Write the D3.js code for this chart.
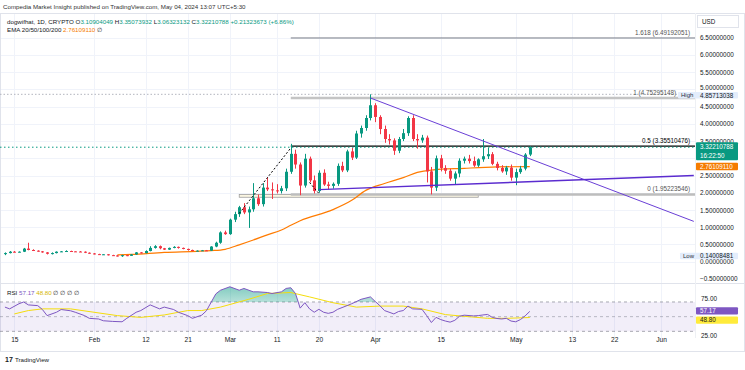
<!DOCTYPE html>
<html>
<head>
<meta charset="utf-8">
<script src="https://cdn.jsdelivr.net/npm/d3@7"></script>
<style>
body { margin: 0; background: #fff; }
svg text { font-family: "Liberation Sans", Arial, sans-serif; }
</style>
</head>
<body>
<svg id="chart" width="745" height="370"></svg>
<script>
// daily candles, first one on Jan 13 2024
var firstDay = '2024-01-13';
var open = [0.22,0.25,0.29,0.28,0.29,0.38,0.34,0.32,0.30,0.27,
    0.23,0.25,0.29,0.30,0.31,0.30,0.295,0.29,0.26,0.24,
    0.22,0.205,0.215,0.19,0.18,0.16,0.19,0.17,0.21,0.27,
    0.25,0.31,0.40,0.45,0.39,0.35,0.40,0.43,0.40,0.37,
    0.34,0.31,0.32,0.33,0.32,0.44,0.55,0.85,0.80,1.22,
    1.38,1.58,1.43,1.52,1.84,1.67,2.15,2.10,2.07,2.05,
    2.13,2.61,3.13,2.82,2.21,2.99,2.36,2.05,2.58,2.24,
    2.20,2.26,2.78,2.65,3.20,3.02,3.72,3.88,4.17,4.54,
    4.20,3.85,3.56,3.52,3.22,3.56,3.73,4.17,3.56,3.52,
    3.60,2.62,2.15,3.00,2.72,2.64,2.41,2.56,2.93,2.99,
    2.92,2.79,2.97,3.06,3.12,2.84,2.72,2.62,2.73,2.44,
    2.60,2.70,3.10904049];
var high = [0.27,0.31,0.31,0.30,0.40,0.55,0.36,0.33,0.31,0.28,
    0.27,0.30,0.31,0.33,0.32,0.31,0.31,0.30,0.27,0.25,
    0.23,0.22,0.22,0.20,0.19,0.20,0.20,0.22,0.28,0.28,
    0.33,0.45,0.48,0.47,0.40,0.41,0.45,0.44,0.41,0.38,
    0.35,0.33,0.34,0.34,0.45,0.58,0.88,0.90,1.25,1.45,
    1.62,1.70,1.60,2.28,1.95,2.28,2.45,2.30,2.25,2.20,
    2.70,3.42,3.25,2.88,3.13,3.05,2.50,2.65,2.68,2.32,
    2.30,2.85,2.90,3.25,3.30,3.80,3.95,4.25,4.85713038,4.60,
    4.25,3.95,3.70,3.58,3.62,3.85,4.22,4.25,3.70,3.68,
    3.66,2.75,3.08,3.10,2.80,2.70,2.62,3.00,3.05,3.10,
    3.05,3.00,3.56,3.30,3.18,2.90,2.80,2.78,2.82,2.70,
    2.78,3.15,3.35073932];
var low = [0.19,0.24,0.27,0.27,0.28,0.33,0.31,0.29,0.26,0.21,
    0.21,0.24,0.28,0.29,0.29,0.29,0.28,0.25,0.23,0.21,
    0.20,0.20,0.18,0.17,0.15,0.14008481,0.16,0.17,0.20,0.24,
    0.24,0.30,0.38,0.36,0.34,0.34,0.39,0.38,0.36,0.32,
    0.30,0.30,0.31,0.31,0.31,0.42,0.52,0.78,0.78,1.15,
    1.30,1.38,0.98,1.45,1.62,1.60,2.05,1.82,1.98,1.98,
    2.05,2.55,2.70,1.93,2.15,2.30,1.98,2.00,2.20,2.10,
    2.12,2.20,2.60,2.60,2.95,2.98,3.60,3.80,4.10,4.05,
    3.70,3.45,3.40,3.10,3.15,3.50,3.65,3.50,3.28,3.45,
    2.30,1.952,2.05,2.62,2.55,2.35,2.25,2.45,2.85,2.85,
    2.75,2.75,2.90,2.98,2.80,2.65,2.58,2.52,2.35,2.22,
    2.55,2.65,3.06323132];
var close = [0.25,0.29,0.28,0.29,0.38,0.34,0.32,0.30,0.27,0.23,
    0.25,0.29,0.30,0.31,0.30,0.295,0.29,0.26,0.24,0.22,
    0.21,0.215,0.19,0.18,0.16,0.19,0.17,0.21,0.27,0.25,
    0.31,0.40,0.45,0.39,0.35,0.40,0.43,0.40,0.37,0.34,
    0.31,0.32,0.33,0.32,0.44,0.55,0.85,0.80,1.22,1.38,
    1.58,1.43,1.52,1.84,1.67,2.15,2.10,2.07,2.05,2.13,
    2.61,3.13,2.82,2.21,2.99,2.36,2.05,2.58,2.24,2.20,
    2.26,2.78,2.65,3.20,3.02,3.72,3.88,4.17,4.54,4.20,
    3.85,3.56,3.52,3.22,3.56,3.73,4.17,3.56,3.52,3.60,
    2.62,2.15,3.00,2.72,2.64,2.41,2.56,2.93,2.99,2.92,
    2.79,2.97,3.06,3.12,2.84,2.72,2.62,2.73,2.44,2.60,
    2.70,3.109,3.32210788];

// EMA line
var emaDates = ['2024-02-06','2024-02-09','2024-02-16','2024-02-23','2024-02-26','2024-02-29',
    '2024-03-03','2024-03-06','2024-03-09','2024-03-12','2024-03-14','2024-03-16','2024-03-23',
    '2024-03-27','2024-03-30','2024-04-03','2024-04-07','2024-04-10','2024-04-13','2024-04-20',
    '2024-04-27','2024-05-04'];
var emaValues = [0.20,0.21,0.27,0.30,0.32,0.36,0.49,0.63,0.78,0.92,1.06,1.19,1.51,1.78,2.07,
    2.27,2.44,2.59,2.66,2.71,2.75,2.76109110];

// RSI and its moving average
var rsiDates = ['2024-01-13','2024-01-14','2024-01-16','2024-01-17','2024-01-18','2024-01-20',
    '2024-01-21','2024-01-22','2024-01-24','2024-01-25','2024-01-27','2024-01-28','2024-01-30',
    '2024-01-31','2024-02-02','2024-02-03','2024-02-05','2024-02-07','2024-02-08','2024-02-10',
    '2024-02-11','2024-02-13','2024-02-15','2024-02-16','2024-02-18','2024-02-19','2024-02-21',
    '2024-02-22','2024-02-24','2024-02-25','2024-02-27','2024-02-28','2024-03-01','2024-03-03',
    '2024-03-04','2024-03-06','2024-03-07','2024-03-09','2024-03-10','2024-03-12','2024-03-13',
    '2024-03-14','2024-03-15','2024-03-16','2024-03-17','2024-03-18','2024-03-19','2024-03-20',
    '2024-03-21','2024-03-22','2024-03-23','2024-03-24','2024-03-26','2024-03-27','2024-03-29',
    '2024-03-31','2024-04-01','2024-04-02','2024-04-03','2024-04-05','2024-04-06','2024-04-07',
    '2024-04-08','2024-04-09','2024-04-11','2024-04-12','2024-04-13','2024-04-14','2024-04-15',
    '2024-04-16','2024-04-17','2024-04-18','2024-04-19','2024-04-20','2024-04-22','2024-04-23',
    '2024-04-24','2024-04-25','2024-04-26','2024-04-27','2024-04-28','2024-04-29','2024-04-30',
    '2024-05-01','2024-05-02','2024-05-03','2024-05-04'];
var rsiValues = [63,60.6,67.6,70,66,65,59.7,51.4,56,59.7,58,56,51.4,47.7,46.8,44.4,43.5,43,47.7,56,
    58.3,66,60.6,63,59.7,56,51.4,47.7,52,58,81,86,90.7,86,88.4,83.8,83.8,82.9,81.5,83.8,88.4,
    89.4,81.5,61.6,69,60.6,56,60,56,54.5,56,60,65,67.6,73.6,76.9,70.8,65,58.3,53.7,57,58.3,
    64.4,60.6,60,51.4,42,49,46,44,42.5,45,50.5,52,51,51.4,52.3,53,49,47.5,46.8,47.7,44,43,46,51,57.17];
var maDates = ['2024-01-15','2024-01-18','2024-01-21','2024-01-27','2024-02-01','2024-02-06',
    '2024-02-11','2024-02-16','2024-02-21','2024-02-24','2024-02-28','2024-03-05','2024-03-09',
    '2024-03-14','2024-03-18','2024-03-23','2024-03-28','2024-04-02','2024-04-07','2024-04-11',
    '2024-04-16','2024-04-20','2024-04-25','2024-04-29','2024-05-04'];
var maValues = [53.7,58.3,60.6,60.6,56,51.4,49,52.3,58.3,58.3,63,73.6,81.5,82.9,76.9,69,63,64.4,
    64.4,60.6,52.8,50.5,47.7,47.7,48.80];

// fib levels
var fibStart = '2024-03-14';
var fibLevels = ['1.618', '1', '0.5', '0'];
var fibPrices = [6.49192051, 4.75295148, 3.35510476, 1.95223546];

// axis ticks (3.0 sits under the last price tag)
var priceTicks = [-0.5, 0, 0.5, 1, 1.5, 2, 2.5, 3, 3.5, 4, 4.5, 5, 5.5, 6, 6.5];
var priceLabels = [-0.5, 0, 0.5, 1, 1.5, 2, 2.5, 3.5, 4, 4.5, 5, 5.5, 6, 6.5];
var timeTicks = ['2024-01-15','2024-02-01','2024-02-12','2024-02-21','2024-03-01','2024-03-11',
    '2024-03-20','2024-04-01','2024-04-15','2024-05-01','2024-05-13','2024-05-22','2024-06-01'];
var timeLabels = ['15','Feb','12','21','Mar','11','20','Apr','15','May','13','22','Jun'];
var rsiTicks = [25, 75];

var parse = d3.utcParse('%Y-%m-%d');
var svg = d3.select('#chart');
var plotR = 695, mainTop = 13, mainBot = 283, rsiBot = 338;

var x = d3.scaleUtc().domain([parse('2024-01-15'), parse('2024-06-01')]).range([14.3, 661]);
var y = d3.scaleLinear().domain([0, 6.5]).range([261.7, 37.7]);
var ry = d3.scaleLinear().domain([25, 75]).range([335, 298.3]);

var candles = open.map(function(o, i) {
    return {date: d3.utcDay.offset(parse(firstDay), i), o: o, h: high[i], l: low[i], c: close[i]};
});

var defs = svg.append('defs');
defs.append('clipPath').attr('id', 'mainClip')
    .append('rect').attr('x', 0).attr('y', mainTop).attr('width', plotR).attr('height', mainBot - mainTop);
defs.append('clipPath').attr('id', 'obClip')
    .append('rect').attr('x', 0).attr('y', mainBot).attr('width', plotR).attr('height', ry(70) - mainBot);
var grad = defs.append('linearGradient').attr('id', 'obGrad').attr('x1', 0).attr('x2', 0).attr('y1', 0).attr('y2', 1);
grad.append('stop').attr('offset', '0%').attr('stop-color', '#089981').attr('stop-opacity', 0.5);
grad.append('stop').attr('offset', '100%').attr('stop-color', '#089981').attr('stop-opacity', 0.02);

// grid
svg.append('g').selectAll('line').data(timeTicks).enter().append('line')
    .attr('x1', function(d) { return Math.round(x(parse(d))) + 0.5; })
    .attr('x2', function(d) { return Math.round(x(parse(d))) + 0.5; })
    .attr('y1', mainTop).attr('y2', rsiBot)
    .attr('stroke', '#f0f3fa');
svg.append('g').selectAll('line').data(priceTicks.filter(function(d) { return d >= 0; })).enter().append('line')
    .attr('x1', 0).attr('x2', plotR)
    .attr('y1', function(d) { return Math.round(y(d)) + 0.5; })
    .attr('y2', function(d) { return Math.round(y(d)) + 0.5; })
    .attr('stroke', '#f0f3fa');

// frame
svg.append('rect').attr('x', 0.5).attr('y', mainTop + 0.5).attr('width', 744).attr('height', 338)
    .attr('fill', 'none').attr('stroke', '#e0e3eb');
svg.append('line').attr('x1', 0).attr('x2', 745).attr('y1', mainBot + 0.5).attr('y2', mainBot + 0.5).attr('stroke', '#e0e3eb');
svg.append('line').attr('x1', plotR + 0.5).attr('x2', plotR + 0.5).attr('y1', mainTop).attr('y2', rsiBot).attr('stroke', '#eef0f4');

var main = svg.append('g').attr('clip-path', 'url(#mainClip)');

// support zone box
main.append('rect')
    .attr('x', x(parse('2024-03-03'))).attr('width', x(parse('2024-04-23')) - x(parse('2024-03-03')))
    .attr('y', y(1.95223546)).attr('height', y(1.87) - y(1.95223546))
    .attr('fill', '#fbf6e2').attr('stroke', '#9e9e9e').attr('stroke-width', 0.8);

// fib lines
var fibStyle = [
    {stroke: '#787b86', w: 1},
    {stroke: '#c4c4c4', w: 2.5},
    {stroke: '#000', w: 1.2},
    {stroke: '#bdbdbd', w: 2.5}
];
main.append('g').selectAll('line').data(fibPrices).enter().append('line')
    .attr('x1', x(parse(fibStart))).attr('x2', plotR)
    .attr('y1', function(d) { return y(d); }).attr('y2', function(d) { return y(d); })
    .attr('stroke', function(d, i) { return fibStyle[i].stroke; })
    .attr('stroke-width', function(d, i) { return fibStyle[i].w; });

// high and last price lines
main.append('line').attr('x1', 0).attr('x2', plotR)
    .attr('y1', y(4.85713038)).attr('y2', y(4.85713038))
    .attr('stroke', '#b2b5be').attr('stroke-dasharray', '1.5,2');
main.append('line').attr('x1', 0).attr('x2', plotR)
    .attr('y1', y(close[close.length - 1])).attr('y2', y(close[close.length - 1]))
    .attr('stroke', '#089981').attr('stroke-dasharray', '1.5,2.5');

// EMA
var emaLine = d3.line().curve(d3.curveMonotoneX)
    .x(function(d, i) { return x(parse(emaDates[i])); })
    .y(function(d) { return y(d); });
main.append('path').attr('d', emaLine(emaValues))
    .attr('fill', 'none').attr('stroke', '#ff7b00').attr('stroke-width', 1.2);

// candles
var cg = main.append('g').selectAll('g').data(candles).enter().append('g');
cg.append('line')
    .attr('x1', function(d) { return Math.round(x(d.date)) + 0.5; })
    .attr('x2', function(d) { return Math.round(x(d.date)) + 0.5; })
    .attr('y1', function(d) { return y(d.h); })
    .attr('y2', function(d) { return y(d.l); })
    .attr('stroke', function(d) { return d.c >= d.o ? '#089981' : '#f23645'; });
cg.append('rect')
    .attr('x', function(d) { return Math.round(x(d.date)) - 1; })
    .attr('width', 3)
    .attr('y', function(d) { return y(Math.max(d.o, d.c)); })
    .attr('height', function(d) { return Math.max(1, Math.abs(y(d.o) - y(d.c))); })
    .attr('fill', function(d) { return d.c >= d.o ? '#089981' : '#f23645'; });

// trend lines
main.append('line')
    .attr('x1', x(parse('2024-03-31'))).attr('y1', y(4.75))
    .attr('x2', x(parse('2024-06-08'))).attr('y2', y(1.17))
    .attr('stroke', '#6a3fd6').attr('stroke-width', 1);
main.append('line')
    .attr('x1', x(parse('2024-03-20'))).attr('y1', y(2.09))
    .attr('x2', x(parse('2024-06-08'))).attr('y2', y(2.5))
    .attr('stroke', '#5b2ccf').attr('stroke-width', 1.4);

// dashed pattern legs
main.append('line')
    .attr('x1', x(parse('2024-03-03'))).attr('y1', y(1.40))
    .attr('x2', x(parse('2024-03-14'))).attr('y2', y(3.30))
    .attr('stroke', '#000').attr('stroke-width', 1).attr('stroke-dasharray', '2,2');
main.append('line')
    .attr('x1', x(parse('2024-03-18'))).attr('y1', y(2.30))
    .attr('x2', x(parse('2024-03-20'))).attr('y2', y(1.98))
    .attr('stroke', '#000').attr('stroke-width', 1).attr('stroke-dasharray', '2,2');

// fib labels (level 1 stops short of the High tag)
svg.append('g').selectAll('text').data(fibPrices).enter().append('text')
    .attr('x', function(d, i) { return i === 1 ? 676 : 690; })
    .attr('y', function(d) { return y(d) - 3; })
    .attr('text-anchor', 'end').attr('font-size', 6.3)
    .attr('fill', function(d, i) { return i === 2 ? '#000' : '#555'; })
    .text(function(d, i) { return fibLevels[i] + ' (' + d3.format('.8f')(d) + ')'; });

// price axis
var yAxis = d3.axisRight(y).tickValues(priceLabels).tickSize(0).tickPadding(0)
    .tickFormat(d3.format('.8f'));
svg.append('g').attr('transform', 'translate(700,0)').call(yAxis)
    .call(function(g) {
        g.select('.domain').remove();
        g.selectAll('text').attr('font-size', 6.4).attr('fill', '#131722').attr('font-family', '"Liberation Sans", Arial, sans-serif');
        // 5.0 sits right on top of the High tag
        g.selectAll('.tick').filter(function(d) { return d === 5; }).select('text').attr('dy', '0.02em');
    });

// price axis tags
function tag(yc, h, fill, lines, color, left, leftText) {
    var g = svg.append('g');
    g.append('rect').attr('x', left || 696).attr('y', yc - h / 2).attr('width', 738 - (left || 696)).attr('height', h)
        .attr('fill', fill).attr('rx', 1);
    if (leftText) {
        g.append('text').attr('x', left + 3).attr('y', yc + 2.1).attr('font-size', 6).attr('fill', '#2a2e39').text(leftText);
    }
    lines.forEach(function(t, i) {
        g.append('text').attr('x', 700).attr('y', yc + 2.2 - (lines.length - 1) * 4.3 + i * 8.6)
            .attr('font-size', 6.3).attr('fill', color).text(t);
    });
}
svg.append('rect').attr('x', 697.5).attr('y', 15.5).attr('width', 41).attr('height', 12)
    .attr('fill', '#fff').attr('stroke', '#e0e3eb');
svg.append('text').attr('x', 702).attr('y', 23.5).attr('font-size', 6.3).attr('fill', '#131722').text('USD');
tag(y(4.85713038) + 1, 6.6, '#e3edfc', ['4.85713038'], '#131722', 678, 'High');
tag(y(close[close.length - 1]) + 4, 18, '#089981', ['3.32210788', '16:22:50'], '#fff');
tag(y(2.76109110), 7.5, '#f57c00', ['2.76109110'], '#fff');
tag(y(0.14008481) - 0.8, 6.6, '#e3edfc', ['0.14008481'], '#131722', 680, 'Low');

// RSI pane
svg.append('rect').attr('x', 0).attr('width', plotR)
    .attr('y', ry(70)).attr('height', ry(30) - ry(70))
    .attr('fill', '#7e57c2').attr('fill-opacity', 0.1);
[70, 50, 30].forEach(function(v) {
    svg.append('line').attr('x1', 0).attr('x2', plotR).attr('y1', ry(v)).attr('y2', ry(v))
        .attr('stroke', '#787b86').attr('stroke-opacity', v === 50 ? 0.6 : 0.8)
        .attr('stroke-dasharray', '3,3').attr('stroke-width', 0.8);
});
var rsiArea = d3.area()
    .x(function(d, i) { return x(parse(rsiDates[i])); })
    .y0(ry(70)).y1(function(d) { return ry(d); });
svg.append('path').attr('d', rsiArea(rsiValues)).attr('clip-path', 'url(#obClip)')
    .attr('fill', 'url(#obGrad)');
var maLine = d3.line()
    .x(function(d, i) { return x(parse(maDates[i])); })
    .y(function(d) { return ry(d); });
svg.append('path').attr('d', maLine(maValues)).attr('fill', 'none')
    .attr('stroke', '#f5dd0b').attr('stroke-width', 1);
var rsiLine = d3.line()
    .x(function(d, i) { return x(parse(rsiDates[i])); })
    .y(function(d) { return ry(d); });
svg.append('path').attr('d', rsiLine(rsiValues)).attr('fill', 'none')
    .attr('stroke', '#7e57c2').attr('stroke-width', 1);

var rAxis = d3.axisRight(ry).tickValues(rsiTicks).tickSize(0).tickPadding(0).tickFormat(d3.format('.2f'));
svg.append('g').attr('transform', 'translate(701,0)').call(rAxis)
    .call(function(g) {
        g.select('.domain').remove();
        g.selectAll('text').attr('font-size', 6.4).attr('fill', '#131722').attr('font-family', '"Liberation Sans", Arial, sans-serif');
    });
tag(ry(57.17) - 0.5, 7.2, '#7e57c2', ['57.17'], '#fff');
tag(ry(48.80) + 2.5, 7.2, '#ffeb3b', ['48.80'], '#131722');

// time axis
var xAxis = d3.axisBottom(x).tickValues(timeTicks.map(parse)).tickSize(0).tickPadding(0)
    .tickFormat(function(d, i) { return timeLabels[i]; });
svg.append('g').attr('transform', 'translate(0,338)').call(xAxis)
    .call(function(g) {
        g.select('.domain').remove();
        g.selectAll('text').attr('font-size', 6.6).attr('fill', '#131722').attr('dy', '0.6em')
            .attr('font-family', '"Liberation Sans", Arial, sans-serif');
    });

// legends
svg.append('text').attr('x', 3).attr('y', 8.5).attr('font-size', 6.2).attr('fill', '#333')
    .text('Compedia Market Insight published on TradingView.com, May 04, 2024 13:07 UTC+5:30');
var l1 = svg.append('text').attr('x', 7).attr('y', 23.5).attr('font-size', 6.2).attr('fill', '#131722');
l1.append('tspan').text('dogwifhat, 1D, CRYPTO  O');
l1.append('tspan').attr('fill', '#089981').text('3.10904049');
l1.append('tspan').text(' H');
l1.append('tspan').attr('fill', '#089981').text('3.35073932');
l1.append('tspan').text(' L');
l1.append('tspan').attr('fill', '#089981').text('3.06323132');
l1.append('tspan').text(' C');
l1.append('tspan').attr('fill', '#089981').text('3.32210788 +0.21323673 (+6.86%)');
var l2 = svg.append('text').attr('x', 7).attr('y', 32).attr('font-size', 6.2).attr('fill', '#131722');
l2.append('tspan').text('EMA 20/50/100/200  ');
l2.append('tspan').attr('fill', '#f57c00').text('2.76109110');
l2.append('tspan').text('  \u2205');
var l3 = svg.append('text').attr('x', 7).attr('y', 294.5).attr('font-size', 6.2).attr('fill', '#131722');
l3.append('tspan').text('RSI  ');
l3.append('tspan').attr('fill', '#7e57c2').text('57.17');
l3.append('tspan').attr('fill', '#d4b600').text('  48.80');
l3.append('tspan').text('  \u2205  \u2205  \u2205  \u2205');

// logo
svg.append('text').attr('x', 5).attr('y', 362).attr('font-size', 7).attr('font-weight', 'bold')
    .attr('fill', '#131722').text('17');
svg.append('text').attr('x', 15).attr('y', 362).attr('font-size', 6.2).attr('fill', '#131722')
    .text('TradingView');
</script>
</body>
</html>
